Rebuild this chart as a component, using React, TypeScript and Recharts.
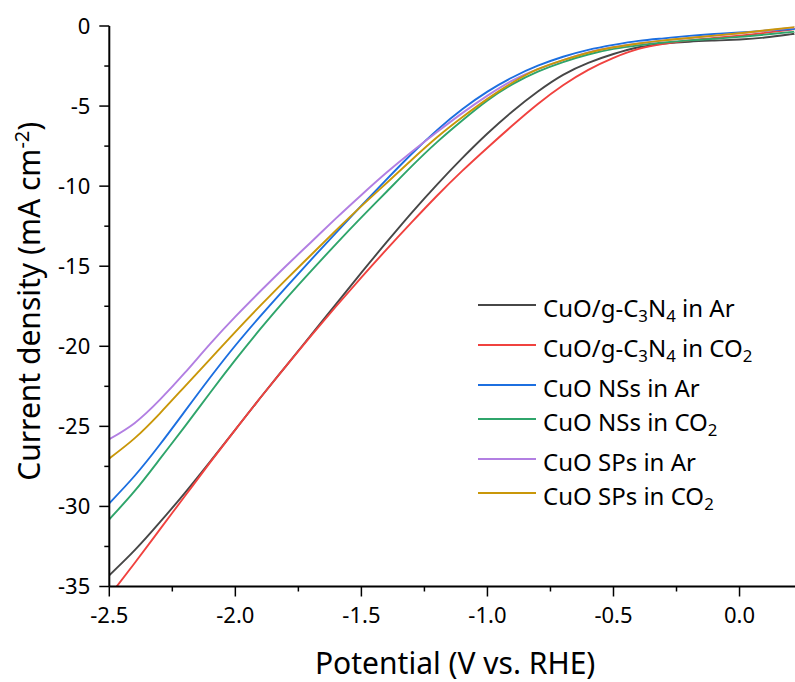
import { LineChart, Line, XAxis, YAxis } from "recharts";

const FONT = "'Noto Sans', 'Open Sans', sans-serif";

// potential (V vs. RHE)
const potentials = [
  -2.5, -2.4, -2.3, -2.2, -2.1, -2.0, -1.9, -1.8, -1.7, -1.6, -1.5, -1.4, -1.3, -1.2, -1.1,
  -1.0, -0.9, -0.8, -0.7, -0.6, -0.5, -0.4, -0.3, -0.2, -0.1, 0.0, 0.1, 0.2, 0.22,
];

// current density (mA cm-2) for each sweep
const cuoCnAr = [
  -34.3, -32.75, -31.0, -29.15, -27.2, -25.2, -23.2, -21.25, -19.3, -17.35, -15.4, -13.5, -11.65, -9.9, -8.25,
  -6.71, -5.32, -4.09, -3.05, -2.3, -1.75, -1.33, -1.1, -0.98, -0.91, -0.84, -0.72, -0.52, -0.48,
];
const cuoCnCo2 = [
  -35.6, -33.55, -31.45, -29.35, -27.25, -25.2, -23.2, -21.25, -19.35, -17.5, -15.7, -13.95, -12.25, -10.6, -9.05,
  -7.6, -6.2, -4.87, -3.7, -2.74, -1.99, -1.43, -1.12, -0.9, -0.74, -0.6, -0.43, -0.23, -0.2,
];
const nsAr = [
  -29.8, -28.1, -26.15, -24.05, -21.95, -19.95, -18.1, -16.33, -14.6, -12.9, -11.22, -9.58, -7.98, -6.5, -5.2,
  -4.1, -3.2, -2.48, -1.92, -1.49, -1.18, -0.93, -0.77, -0.62, -0.5, -0.4, -0.3, -0.2, -0.18,
];
const nsCo2 = [
  -30.8, -29.05, -27.05, -25.0, -22.9, -20.85, -18.9, -17.05, -15.3, -13.6, -11.95, -10.35, -8.75, -7.25, -5.9,
  -4.65, -3.63, -2.85, -2.25, -1.78, -1.43, -1.2, -1.03, -0.9, -0.8, -0.68, -0.54, -0.38, -0.35,
];
const spAr = [
  -25.8, -24.8, -23.35, -21.65, -19.85, -18.15, -16.55, -15.0, -13.5, -12.0, -10.55, -9.15, -7.85, -6.62, -5.44,
  -4.35, -3.4, -2.7, -2.13, -1.65, -1.33, -1.09, -0.9, -0.75, -0.6, -0.46, -0.3, -0.12, -0.08,
];
const spCo2 = [
  -27.0, -25.75, -24.2, -22.5, -20.8, -19.1, -17.45, -15.85, -14.3, -12.75, -11.25, -9.8, -8.35, -6.95, -5.7,
  -4.55, -3.53, -2.7, -2.13, -1.67, -1.33, -1.09, -0.9, -0.75, -0.6, -0.45, -0.28, -0.1, -0.07,
];

// "_n" marks a subscript digit
const seriesNames = [
  "CuO/g-C_3N_4 in Ar",
  "CuO/g-C_3N_4 in CO_2",
  "CuO NSs in Ar",
  "CuO NSs in CO_2",
  "CuO SPs in Ar",
  "CuO SPs in CO_2",
];
const seriesColors = ["#474747", "#f0423f", "#1c6fe0", "#2fa56b", "#b27fe2", "#c99709"];
const seriesValues = [cuoCnAr, cuoCnCo2, nsAr, nsCo2, spAr, spCo2];

const xTicks = [-2.5, -2.25, -2.0, -1.75, -1.5, -1.25, -1.0, -0.75, -0.5, -0.25, 0.0];
const yTicks = [0, -2.5, -5, -7.5, -10, -12.5, -15, -17.5, -20, -22.5, -25, -27.5, -30, -32.5, -35];

const data = potentials.map((v, i) => {
  const row: Record<string, number> = { v };
  seriesValues.forEach((vals, s) => {
    row[`s${s}`] = vals[i];
  });
  return row;
});

const isMajorX = (v: number) => Math.abs(v * 2 - Math.round(v * 2)) < 1e-6;

const XTick = (props: any) => {
  const { x, y, payload } = props;
  const major = isMajorX(payload.value);
  return (
    <g>
      <line x1={x} x2={x} y1={y} y2={y + (major ? 10 : 5)} stroke="#000" strokeWidth={1.5} />
      {major && (
        <text x={x} y={y + 36} textAnchor="middle" fontSize={22} fontFamily={FONT} fill="#000">
          {payload.value.toFixed(1)}
        </text>
      )}
    </g>
  );
};

const YTick = (props: any) => {
  const { x, y, payload } = props;
  const major = payload.value % 5 === 0;
  return (
    <g>
      <line x1={x} x2={x - (major ? 10 : 5)} y1={y} y2={y} stroke="#000" strokeWidth={1.5} />
      {major && (
        <text x={x - 19} y={y} dy="0.36em" textAnchor="end" fontSize={22} fontFamily={FONT} fill="#000">
          {payload.value}
        </text>
      )}
    </g>
  );
};

const YTitle = (props: any) => {
  const { viewBox } = props;
  const cy = viewBox.y + viewBox.height / 2 - 5;
  return (
    <text
      x={40}
      y={cy}
      transform={`rotate(-90 40 ${cy})`}
      textAnchor="middle"
      fontSize={30}
      fontFamily={FONT}
      fill="#000"
    >
      Current density (mA cm
      <tspan dy={-11} fontSize={20}>-2</tspan>
      <tspan dy={11}>)</tspan>
    </text>
  );
};

const XTitle = (props: any) => {
  const { viewBox } = props;
  return (
    <text
      x={viewBox.x + viewBox.width / 2 + 3}
      y={674}
      textAnchor="middle"
      fontSize={30}
      fontFamily={FONT}
      fill="#000"
    >
      Potential (V vs. RHE)
    </text>
  );
};

const renderName = (name: string) =>
  name.split(/_(\d)/).map((part, i) =>
    i % 2 === 1 ? (
      <sub key={i} style={{ fontSize: "0.7em", verticalAlign: "-0.3em", lineHeight: 0 }}>
        {part}
      </sub>
    ) : (
      <span key={i}>{part}</span>
    )
  );

const LegendBox = () => (
  <div style={{ position: "absolute", left: 478, top: 288, fontFamily: FONT, fontSize: 24, color: "#000" }}>
    {seriesNames.map((name, i) => (
      <div
        key={name}
        style={{ display: "flex", alignItems: "flex-start", height: name.includes("_") ? 40 : 34 }}
      >
        <div style={{ width: 58, height: 2, background: seriesColors[i], marginTop: 16 }} />
        <span style={{ marginLeft: 7, marginTop: 3, lineHeight: "34px", whiteSpace: "nowrap" }}>
          {renderName(name)}
        </span>
      </div>
    ))}
  </div>
);

export default function App() {
  return (
    <div style={{ position: "absolute", left: 0, top: 0, width: 795, height: 682, background: "#fff" }}>
      <LineChart width={795} height={682} data={data} margin={{ top: 26, right: 0, bottom: 0, left: 0 }}>
        <XAxis
          dataKey="v"
          type="number"
          domain={[-2.5, 0.22]}
          allowDataOverflow
          ticks={xTicks}
          interval={0}
          height={95.5}
          tickSize={0}
          tickMargin={0}
          tickLine={false}
          tick={<XTick />}
          axisLine={{ stroke: "#000", strokeWidth: 2 }}
          label={{ content: <XTitle /> }}
        />
        <XAxis
          xAxisId="top"
          orientation="top"
          type="number"
          domain={[-2.5, 0.22]}
          height={0}
          tick={false}
          tickLine={false}
          axisLine={{ stroke: "#000", strokeWidth: 2 }}
        />
        <YAxis
          type="number"
          domain={[-35, 0]}
          allowDataOverflow
          ticks={yTicks}
          interval={0}
          width={109.3}
          tickSize={0}
          tickMargin={0}
          tickLine={false}
          tick={<YTick />}
          axisLine={{ stroke: "#000", strokeWidth: 2 }}
          label={{ content: <YTitle /> }}
        />
        {seriesValues.map((_, s) => (
          <Line
            key={s}
            dataKey={`s${s}`}
            type="natural"
            stroke={seriesColors[s]}
            strokeWidth={1.9}
            dot={false}
            isAnimationActive={false}
          />
        ))}
      </LineChart>
      <LegendBox />
    </div>
  );
}
